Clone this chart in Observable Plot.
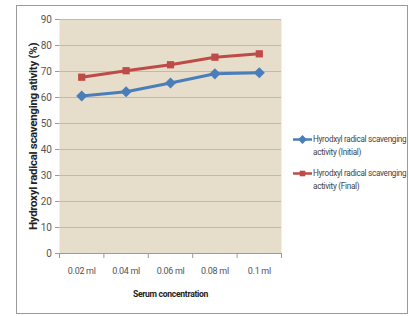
<!DOCTYPE html>
<html>
<head>
<meta charset="utf-8">
<script src="https://cdn.jsdelivr.net/npm/d3@7"></script>
<script src="https://cdn.jsdelivr.net/npm/@observablehq/plot@0.6"></script>
<style>
  body { margin: 0; background: #fff; }
  #wrap { position: relative; width: 409px; height: 316px; font-family: Roboto, sans-serif; }
  #border { position: absolute; left: 16px; top: 5px; width: 390px; height: 307px; border: 1px solid #9a9a9a; pointer-events: none; }
  .leg { position: absolute; left: 293px; font-family: Roboto, sans-serif; font-size: 8.2px; letter-spacing: -0.3px; color: #444; line-height: 13px; white-space: nowrap; }
  .leg svg { position: absolute; left: 0; top: 0; }
  .leg div { margin-left: 20px; }
</style>
</head>
<body>
<div id="wrap"><div id="border"></div></div>
<script>
const categories = ["0.02 ml", "0.04 ml", "0.06 ml", "0.08 ml", "0.1 ml"];
const initialValues = [60.6, 62.2, 65.6, 69.1, 69.5];
const finalValues = [67.8, 70.3, 72.6, 75.5, 76.8];
const yTicks = [0, 10, 20, 30, 40, 50, 60, 70, 80, 90];
const seriesNames = ["Hyrodxyl radical scavenging activity (Initial)", "Hyrodxyl radical scavenging activity (Final)"];
const colors = ["#4a7ebb", "#be4b48"];

const initialData = categories.map((c, i) => ({i: i + 0.5, v: initialValues[i]}));
const finalData = categories.map((c, i) => ({i: i + 0.5, v: finalValues[i]}));
const boundaries = d3.range(categories.length + 1);
const centers = categories.map((c, i) => i + 0.5);

const chart = Plot.plot({
  width: 409,
  height: 316,
  marginLeft: 59,
  marginRight: 128,
  marginTop: 19,
  marginBottom: 63,
  style: {fontFamily: "Roboto, sans-serif", fontSize: "10px", color: "#555", background: "transparent", letterSpacing: "-0.3px"},
  x: {domain: [0, categories.length], axis: null},
  y: {domain: [0, 90], axis: null},
  marks: [
    Plot.frame({fill: "#e6ddca", stroke: null}),
    Plot.ruleY(yTicks.slice(1), {stroke: "#c8b99e", strokeWidth: 1}),
    Plot.ruleY([0], {stroke: "#9a9a9a"}),
    Plot.axisY({ticks: yTicks, tickSize: 4, tickPadding: 4, stroke: "#9a9a9a", label: null, fontSize: 10}),
    Plot.axisX({ticks: boundaries, tickSize: 5, tickFormat: () => "", stroke: "#9a9a9a", label: null}),
    Plot.axisX({ticks: centers, tickSize: 0, tickPadding: 14, tickFormat: d => categories[Math.floor(d)], label: null, fontSize: 9}),
    Plot.line(initialData, {x: "i", y: "v", stroke: colors[0], strokeWidth: 3}),
    Plot.line(finalData, {x: "i", y: "v", stroke: colors[1], strokeWidth: 3}),
    Plot.dot(initialData, {x: "i", y: "v", symbol: "diamond2", fill: colors[0], r: 5}),
    Plot.dot(finalData, {x: "i", y: "v", symbol: "square2", fill: colors[1], r: 4.6}),
    Plot.text(["Hydroxyl radical scavenging ativity (%)"], {frameAnchor: "left", textAnchor: "middle", dx: -26, rotate: -90, fontWeight: "bold", fontSize: 11.5, fill: "#222"}),
    Plot.text(["Serum concentration"], {frameAnchor: "bottom", dy: 43, fontWeight: "bold", fontSize: 8.6, fill: "#222"})
  ]
});
document.getElementById("wrap").prepend(chart);
chart.style.position = "absolute";
chart.style.left = "0";
chart.style.top = "0";

const wrap = document.getElementById("wrap");
const symbols = [d3.symbolDiamond2, d3.symbolSquare2];
const tops = [133, 167];
seriesNames.forEach((name, k) => {
  const el = document.createElement("div");
  el.className = "leg";
  el.style.top = tops[k] + "px";
  const words = name.split(" ");
  const line1 = words.slice(0, 3).join(" ");
  const line2 = words.slice(3).join(" ");
  const sym = d3.symbol(symbols[k], k === 0 ? 50 : 40)();
  el.innerHTML = `<svg width="20" height="13"><line x1="0" x2="19" y1="6.5" y2="6.5" stroke="${colors[k]}" stroke-width="2.5"/><path transform="translate(9.5,6.5)" d="${sym}" fill="${colors[k]}"/></svg><div>${line1}<br>${line2}</div>`;
  wrap.appendChild(el);
});
</script>
</body>
</html>
